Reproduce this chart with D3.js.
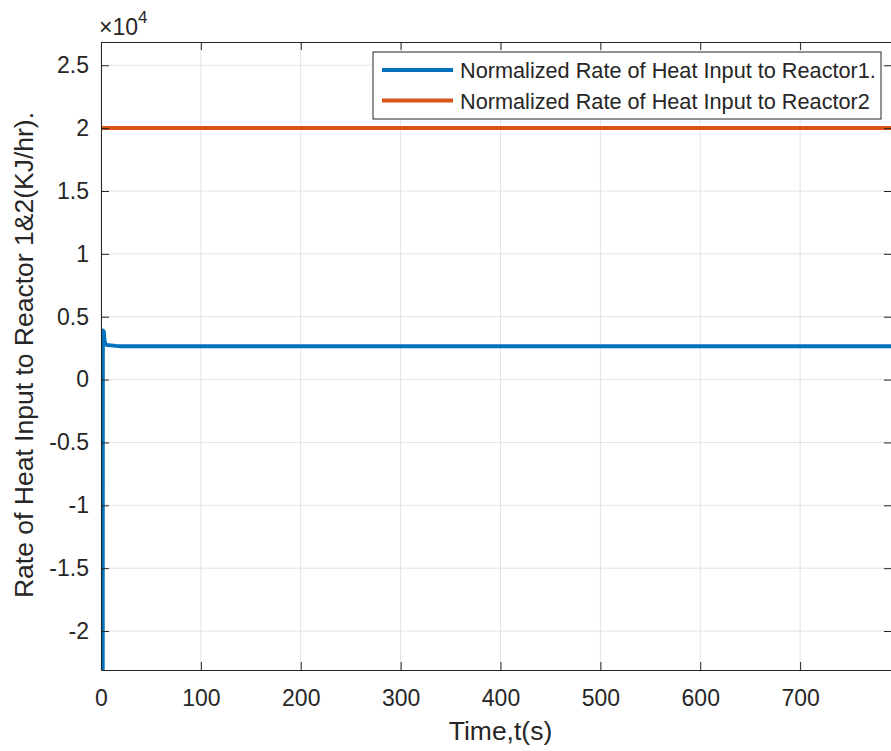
<!DOCTYPE html>
<html>
<head>
<meta charset="utf-8">
<script src="https://cdn.jsdelivr.net/npm/d3@7"></script>
<style>
  body { margin: 0; background: #fff; }
  text { font-family: "Liberation Sans", Arial, sans-serif; fill: #262626; }
</style>
</head>
<body>
<div id="chart"></div>
<script>
// time (s) and values (x10^4 KJ/hr)
var reactor1Time = [1.7, 1.8, 2.0, 2.8, 3.5, 4.5, 6, 10, 15, 20, 40, 792];
var reactor1Heat = [-2.4, 0.2, 0.39, 0.38, 0.31, 0.28, 0.275, 0.272, 0.268, 0.265, 0.265, 0.265];
var reactor2Time = [0, 792];
var reactor2Heat = [2.0, 2.0];
var xTicks = [0, 100, 200, 300, 400, 500, 600, 700];
var yTicks = [-2, -1.5, -1, -0.5, 0, 0.5, 1, 1.5, 2, 2.5];
var seriesNames = ["Normalized Rate of Heat Input to Reactor1.", "Normalized Rate of Heat Input to Reactor2"];
var seriesColors = ["#0072BD", "#D95319"];

var width = 891, height = 751,
    margin = {left: 101, top: 42, right: -1, bottom: 81},
    innerW = width - margin.left - margin.right,
    innerH = height - margin.top - margin.bottom;

var svg = d3.select("#chart").append("svg")
    .attr("width", width)
    .attr("height", height);

var g = svg.append("g")
    .attr("transform", "translate(" + margin.left + "," + margin.top + ")");

var x = d3.scaleLinear().domain([0, 792]).range([0, innerW]),
    y = d3.scaleLinear().domain([-2.31, 2.685]).range([innerH, 0]);

svg.append("defs").append("clipPath").attr("id", "clip")
    .append("rect").attr("width", innerW).attr("height", innerH);

// grid
g.selectAll(".gx").data(xTicks).enter().append("line")
    .attr("x1", function (d) { return x(d); }).attr("x2", function (d) { return x(d); })
    .attr("y1", 0).attr("y2", innerH)
    .attr("stroke", "#e3e3e3").attr("stroke-width", 1);
g.selectAll(".gy").data(yTicks).enter().append("line")
    .attr("x1", 0).attr("x2", innerW)
    .attr("y1", function (d) { return y(d); }).attr("y2", function (d) { return y(d); })
    .attr("stroke", "#e3e3e3").attr("stroke-width", 1);

// lines
var line = d3.line()
    .x(function (d) { return x(d[0]); })
    .y(function (d) { return y(d[1]); });

var lines = g.append("g").attr("clip-path", "url(#clip)");
lines.append("path")
    .datum(d3.zip(reactor2Time, reactor2Heat))
    .attr("fill", "none").attr("stroke", seriesColors[1])
    .attr("stroke-width", 4).attr("d", line);
lines.append("path")
    .datum(d3.zip(reactor1Time, reactor1Heat))
    .attr("fill", "none").attr("stroke", seriesColors[0])
    .attr("stroke-width", 4).attr("stroke-linejoin", "round").attr("d", line);

// axes (ticks inside, MATLAB style)
function style(sel) {
    sel.select(".domain").attr("stroke", "#262626");
    sel.selectAll(".tick line").attr("stroke", "#262626");
    sel.selectAll("text").style("font-size", "23px").attr("fill", "#262626")
        .style("font-family", "'Liberation Sans', Arial, sans-serif");
}
g.append("g").attr("transform", "translate(0," + innerH + ")")
    .call(d3.axisBottom(x).tickValues(xTicks).tickSizeInner(-8).tickSizeOuter(0).tickPadding(20).tickFormat(d3.format("d")))
    .call(style);
g.append("g")
    .call(d3.axisLeft(y).tickValues(yTicks).tickSizeInner(-8).tickSizeOuter(0).tickPadding(12).tickFormat(function (d) { return d; }))
    .call(style);
g.append("g")
    .call(d3.axisTop(x).tickValues(xTicks).tickSizeInner(-8).tickSizeOuter(0).tickFormat(""))
    .call(style);
g.append("g").attr("transform", "translate(" + innerW + ",0)")
    .call(d3.axisRight(y).tickValues(yTicks).tickSizeInner(-8).tickSizeOuter(0).tickFormat(""))
    .call(style);

// exponent label
var expo = svg.append("text").attr("x", margin.left - 2).attr("y", 35).style("font-size", "23px");
expo.append("tspan").text("\u00d710");
expo.append("tspan").attr("dy", -12).style("font-size", "17px").text("4");

// axis labels
svg.append("text")
    .attr("x", margin.left + x(400)).attr("y", 740)
    .attr("text-anchor", "middle").style("font-size", "26.5px")
    .text("Time,t(s)");
svg.append("text")
    .attr("transform", "translate(33,355) rotate(-90)")
    .attr("text-anchor", "middle").style("font-size", "26.5px")
    .text("Rate of Heat Input to Reactor 1&2(KJ/hr).");

// legend
var legend = svg.append("g").attr("transform", "translate(373,52)");
legend.append("rect").attr("width", 508).attr("height", 67)
    .attr("fill", "#fff").attr("stroke", "#262626").attr("stroke-width", 1);
seriesNames.forEach(function (name, i) {
    var row = legend.append("g").attr("transform", "translate(0," + (18 + i * 30.5) + ")");
    row.append("line").attr("x1", 9).attr("x2", 80)
        .attr("stroke", seriesColors[i]).attr("stroke-width", 4);
    row.append("text").attr("x", 87).attr("y", 8).style("font-size", "21.7px").text(name);
});
</script>
</body>
</html>
